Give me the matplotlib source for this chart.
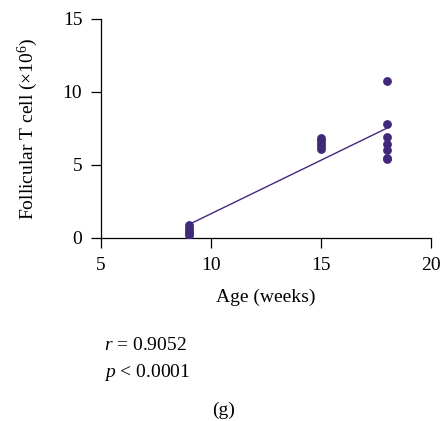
import numpy as np
import matplotlib.pyplot as plt

plt.rcParams['font.family'] = ['Liberation Serif', 'DejaVu Serif']
plt.rcParams['mathtext.fontset'] = 'custom'
plt.rcParams['mathtext.rm'] = 'Liberation Serif'
plt.rcParams['mathtext.it'] = 'Liberation Serif:italic'

# data
age_9 = [0.2, 0.35, 0.5, 0.7, 0.9]
age_15 = [6.1, 6.3, 6.5, 6.7, 6.85]
age_18 = [10.75, 7.8, 6.9, 6.4, 6.0, 5.5, 5.4]
ages = [9] * len(age_9) + [15] * len(age_15) + [18] * len(age_18)
cells = age_9 + age_15 + age_18

color = '#42287a'
fs = 14

fig = plt.figure(figsize=(4.43, 4.21), dpi=100)
ax = fig.add_axes([0.228, 0.435, 0.745, 0.52])

x = np.array(ages)
y = np.array(cells)
slope, icpt = np.polyfit(x, y, 1)
xs = np.array([x.min(), x.max()])
ax.plot(xs, slope * xs + icpt, color=color, lw=1.0, zorder=2)
ax.scatter(x, y, s=40, color=color, zorder=3, linewidths=0)

ax.set_xlim(5, 20)
ax.set_ylim(0, 15)
ax.set_xticks([5, 10, 15, 20])
ax.set_yticks([0, 5, 10, 15])
ax.spines['top'].set_visible(False)
ax.spines['right'].set_visible(False)
for s in ['left', 'bottom']:
    ax.spines[s].set_linewidth(0.9)
ax.tick_params(direction='out', length=7.5, width=0.9, labelsize=fs, pad=6)
ax.set_xlabel('Age (weeks)', fontsize=fs, labelpad=11)
ax.set_ylabel(r'Follicular T cell ($\times$10$^{6}$)', fontsize=fs, labelpad=16)

fig.text(0.235, 0.18, r'$\it{r}$ = 0.9052', fontsize=fs, va='center')
fig.text(0.235, 0.116, r'$\it{p}$ < 0.0001', fontsize=fs, va='center')
fig.text(0.504, 0.026, '(g)', fontsize=fs, ha='center', va='center')

fig.savefig('out.png', dpi=100)
